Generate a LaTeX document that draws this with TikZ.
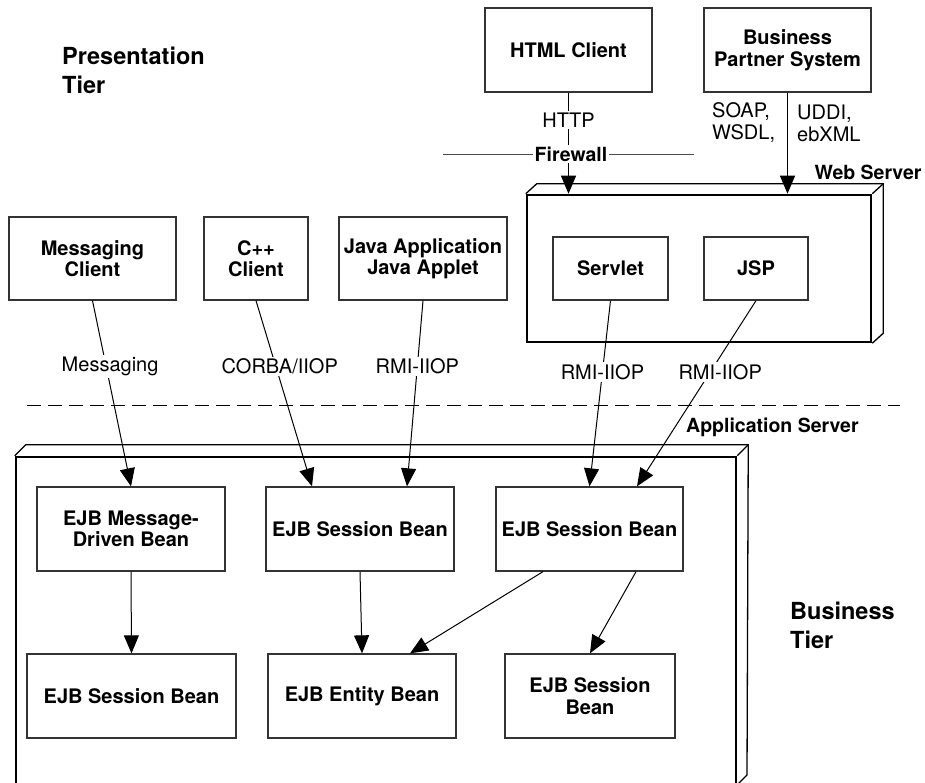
\documentclass[tikz,border=0pt]{standalone}
\usepackage{fontspec}
\setmainfont{TeX Gyre Heros}
\usetikzlibrary{arrows.meta,calc}
\begin{document}
\begin{tikzpicture}[x=1pt,y=-1pt,
  box/.style={draw=black!80, line width=1.3pt, fill=white, align=center, inner sep=0pt,
    font=\fontsize{20}{21.5}\selectfont\bfseries},
  server/.style={draw=black, line width=2.5pt, inner sep=0pt},
  conn/.style={line width=1pt, -{Triangle[length=18pt,width=15pt]}},
  lbl/.style={fill=white, inner sep=2pt, font=\fontsize{20}{22}\selectfont},
  blbl/.style={inner sep=0pt, font=\fontsize{19.5}{22}\selectfont\bfseries},
  tier/.style={inner sep=0pt, align=left, anchor=west, font=\fontsize{23.5}{29}\selectfont\bfseries}]
\useasboundingbox (0,0) rectangle (925,783);

% tier titles
\node[tier] (pt) at (62,70) {Presentation\\Tier};
\node[tier] (bt) at (790,625) {Business\\Tier};

% web server
\node[server, minimum width=344pt, minimum height=147pt] (ws) at (699,268.5) {};
\draw[line width=1.3pt] (ws.north west) -- ++(11,-10) -- ($(ws.north east)+(11,-10)$) -- ($(ws.south east)+(11,-10)$) -- (ws.south east);
\draw[line width=1.3pt] (ws.north east) -- ++(11,-10);
\node[blbl] (wsl) at (868,172) {Web Server};

% application server
\node[server, minimum width=720pt, minimum height=343pt] (as) at (376,628.5) {};
\draw[line width=1.3pt] (as.north west) -- ++(11,-11) -- ($(as.north east)+(11,-11)$) -- (747,775) -- (736,786);
\draw[line width=1.3pt] (as.north east) -- ++(11,-11);
\node[blbl, anchor=west] (asl) at (686,427) {Application Server};

% boundary
\draw[line width=1pt, dash pattern=on 14pt off 7pt] (27,405) -- (900,405);
\draw[black!70, line width=0.9pt] (443,154) -- (694,154);

% top clients
\node[box, minimum width=167pt, minimum height=84pt] (html) at (568.5,50) {HTML Client};
\node[box, minimum width=167pt, minimum height=84pt] (bps) at (787.5,50) {Business\\Partner System};

% presentation clients
\node[box, minimum width=167pt, minimum height=83pt] (mc) at (92.5,258.5) {Messaging\\Client};
\node[box, minimum width=104pt, minimum height=83pt] (cpp) at (256,258.5) {C++\\Client};
\node[box, minimum width=168pt, minimum height=83pt] (java) at (423,258.5) {Java Application\\Java Applet};

% web tier components
\node[box, minimum width=115pt, minimum height=63pt] (servlet) at (610.5,268.5) {Servlet};
\node[box, minimum width=104pt, minimum height=63pt] (jsp) at (756,268.5) {JSP};

% EJB components
\node[box, minimum width=188pt, minimum height=84pt] (mdb) at (131,529) {EJB Message-\\Driven Bean};
\node[box, minimum width=188pt, minimum height=84pt] (sb1) at (360,529) {EJB Session Bean};
\node[box, minimum width=187pt, minimum height=84pt] (sb2) at (589.5,529) {EJB Session Bean};
\node[box, minimum width=209pt, minimum height=84pt] (sb3) at (131.5,696) {EJB Session Bean};
\node[box, minimum width=188pt, minimum height=84pt] (ent) at (362,696) {EJB Entity Bean};
\node[box, minimum width=170pt, minimum height=84pt] (sb4) at (590,696) {EJB Session\\Bean};

% connectors, top
\draw[conn] (html.south) -- (html.south |- ws.north) node[lbl, pos=0.27] {HTTP};
\node[blbl, fill=white, inner sep=2pt] (fw) at (571,154) {Firewall};
\draw[conn] (bps.south) -- (bps.south |- ws.north);
\node[lbl, fill=none, align=left, anchor=west, inner sep=0pt] (soap) at (712,123) {SOAP,\\WSDL,};
\node[lbl, fill=none, align=left, anchor=west, inner sep=0pt] (uddi) at (797,123) {UDDI,\\ebXML};

% connectors, client to EJB
\draw[conn] (mc.south) -- (mdb.north) node[lbl, pos=0.353, xshift=4pt] {Messaging};
\draw[conn] (cpp.south) -- ([xshift=-48pt]sb1.north) node[lbl, pos=0.353, xshift=4pt] {CORBA/IIOP};
\draw[conn] (java.south) -- ([xshift=47pt]sb1.north) node[lbl, pos=0.353] {RMI-IIOP};
\draw[conn] (servlet.south) -- (sb2.north) node[lbl, pos=0.385] {RMI-IIOP};
\draw[conn] (jsp.south) -- ([xshift=47.5pt]sb2.north) node[lbl, pos=0.385, xshift=10pt] {RMI-IIOP};

% EJB internal
\draw[conn] (mdb.south) -- (sb3.north);
\draw[conn] (sb1.south) -- (ent.north);
\draw[conn] ([xshift=-46.5pt]sb2.south) -- ([xshift=48pt]ent.north);
\draw[conn] ([xshift=46.5pt]sb2.south) -- (sb4.north);
\end{tikzpicture}
\end{document}
